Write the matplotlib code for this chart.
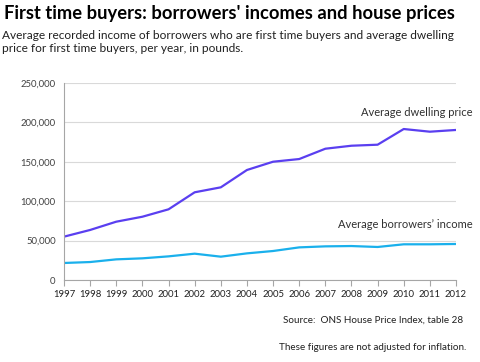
import matplotlib
matplotlib.use("Agg")
import matplotlib.pyplot as plt
from matplotlib.ticker import FuncFormatter

plt.rcParams['font.family'] = ['Lato', 'DejaVu Sans']

years = list(range(1997, 2013))
dwelling_price = [55000, 63500, 74000, 80300, 89700, 111300, 117600, 139600,
                  150100, 153500, 166600, 170400, 171700, 191600, 188200, 190400]
borrower_income = [21600, 22800, 26200, 27500, 30000, 33400, 29600, 33800,
                   36800, 41400, 42700, 43100, 41900, 45300, 45300, 45700]
y_ticks = [0, 50000, 100000, 150000, 200000, 250000]

title = "First time buyers: borrowers' incomes and house prices"
subtitle = ("Average recorded income of borrowers who are first time buyers and average dwelling\n"
            "price for first time buyers, per year, in pounds.")

fig = plt.figure(figsize=(4.8, 3.62), dpi=100)
ax = fig.add_axes([64/480, 1-280/362, (456-64)/480, (280-83)/362])

ax.plot(years, dwelling_price, color='#5a3ff0', lw=1.6, solid_capstyle='round')
ax.plot(years, borrower_income, color='#1ab0ec', lw=1.6, solid_capstyle='round')

ax.set_xlim(1997, 2012)
ax.set_ylim(0, 250000)
ax.set_yticks(y_ticks)
ax.yaxis.set_major_formatter(FuncFormatter(lambda v, p: f"{int(v):,}"))
ax.set_xticks(years)
ax.set_xticklabels([str(y) for y in years])
ax.grid(axis='y', color='#d9d9d9', lw=0.8)
ax.set_axisbelow(True)
for s in ['top', 'right']:
    ax.spines[s].set_visible(False)
for s in ['left', 'bottom']:
    ax.spines[s].set_color('#a6a6a6')
    ax.spines[s].set_linewidth(0.8)
ax.tick_params(axis='y', length=0, labelsize=6.8, pad=6, colors='#404040')
ax.tick_params(axis='x', length=4, direction='out', color='#a6a6a6', labelsize=6.8, pad=3, labelcolor='#202020')

ax.text(2012.65, 212000, "Average dwelling price", ha='right', va='center', fontsize=8.0, color='#303030')
ax.text(2012.65, 71000, "Average borrowers\u2019 income", ha='right', va='center', fontsize=8.0, color='#303030')

fig.text(4/480, 1-14/362, title, ha='left', va='center', fontsize=13.2, fontweight='bold', color='#000000')
fig.text(2/480, 1-42/362, subtitle, ha='left', va='center', fontsize=8.55, color='#202020', linespacing=1.3)
fig.text(463/480, 1-320/362, "Source:  ONS House Price Index, table 28", ha='right', va='center', fontsize=7.1, color='#202020')
fig.text(466/480, 1-347/362, "These figures are not adjusted for inflation.", ha='right', va='center', fontsize=7.15, color='#202020')

fig.savefig("out.png", dpi=100)
